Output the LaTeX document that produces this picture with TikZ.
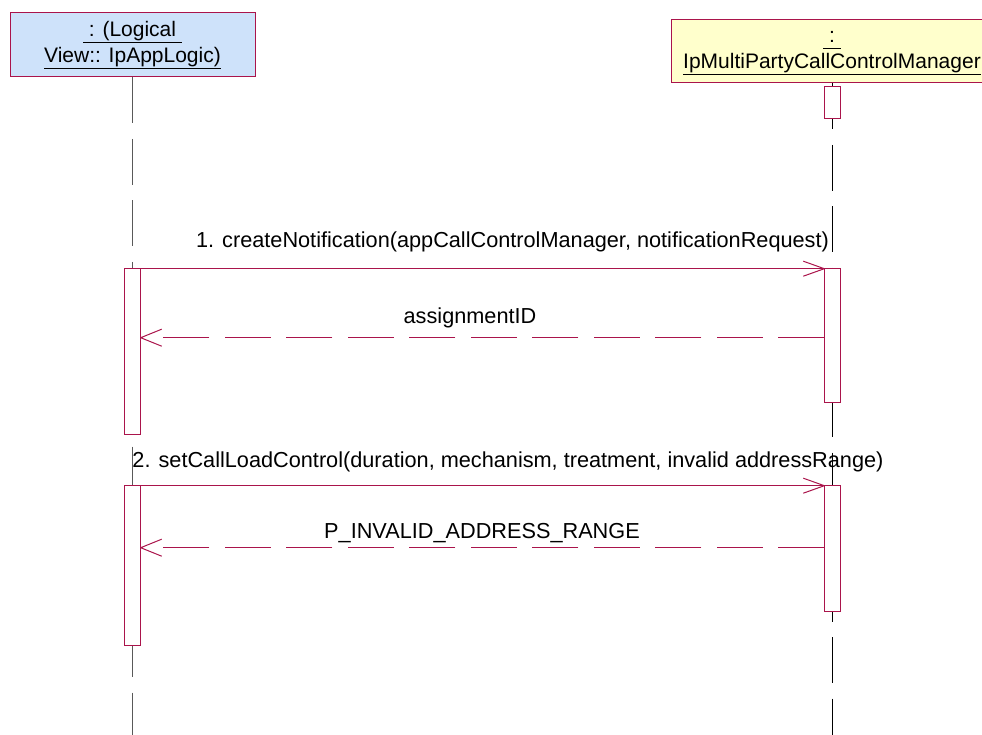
\documentclass[tikz,border=0pt]{standalone}
\usepackage{fontspec}
\setmainfont{Liberation Sans}
\usetikzlibrary{calc}
\definecolor{umlred}{RGB}{170,20,75}
\definecolor{appblue}{RGB}{206,226,250}
\definecolor{mgryellow}{RGB}{255,255,204}
\tikzset{
 objbox/.style={draw=umlred, line width=1pt, inner sep=0pt, align=center, font=\fontsize{21}{26}\selectfont},
 lifeline/.style={dash pattern=on 46pt off 15.5pt, line width=1pt},
 actbox/.style={draw=umlred, fill=white, line width=1pt},
 callmsg/.style={draw=umlred, line width=1pt},
 retmsg/.style={draw=umlred, line width=1pt, dash pattern=on 46pt off 15.5pt},
 barb/.style={draw=umlred, line width=1pt, line join=round},
 msglabel/.style={font=\fontsize{21.7}{26}\selectfont, anchor=base, inner sep=0pt, text=black},
}
\newcommand\ulbox[1]{\underline{\vphantom{(p}#1}}
\begin{document}
\begin{tikzpicture}[x=1pt,y=-1pt]
\useasboundingbox (0,0) rectangle (982,735);
\clip (0,0) rectangle (982,735);
% objects
\node[objbox, fill=appblue, minimum width=245pt, minimum height=64pt] (app) at (132.5,45) {\ulbox{~: (Logical~}\\\ulbox{View:: IpAppLogic)}};
\node[objbox, fill=mgryellow, minimum width=322pt, minimum height=63pt] (mgr) at (832,51.5) {\ulbox{~:~}\\\ulbox{IpMultiPartyCallControlManager}};
% lifelines
\coordinate (append) at (132.5,745);
\coordinate (mgrend) at (832,745);
\draw[lifeline, draw=black!65, line width=1.4pt] (app.south) -- (append);
\draw[lifeline, draw=black] (mgr.south) -- (mgrend);
% activations
\draw[actbox] (824.3,86.7) rectangle (840.3,118.3);
\draw[actbox] (124.3,268.7) rectangle (140.7,434);
\draw[actbox] (824.3,268.7) rectangle (840.3,402.7);
\draw[actbox] (124.3,485.7) rectangle (140.7,645.7);
\draw[actbox] (824.3,485.7) rectangle (840.3,611.7);
% message 1
\coordinate (m1s) at (132.5,268.7);
\coordinate (m1e) at (824.3,268.7);
\draw[callmsg] (m1s) -- (m1e);
\draw[barb] ($(m1e)+(-21,-7.5)$) -- (m1e) -- ($(m1e)+(-21,7.5)$);
\node[msglabel] (l1) at (512.5,248) {1. createNotification(appCallControlManager, notificationRequest)};
% return 1
\coordinate (r1s) at (824.3,337.7);
\coordinate (r1e) at (140.7,337.7);
\draw[retmsg] (r1s) -- ($(r1e)+(22,0)$);
\draw[barb] ($(r1e)+(21,-8.5)$) -- (r1e) -- ($(r1e)+(21,8.5)$);
\node[msglabel] (l2) at (470,323) {assignmentID};
% message 2
\coordinate (m2s) at (132.5,485.7);
\coordinate (m2e) at (824.3,485.7);
\draw[callmsg] (m2s) -- (m2e);
\draw[barb] ($(m2e)+(-21,-7.5)$) -- (m2e) -- ($(m2e)+(-21,7.5)$);
\node[msglabel] (l3) at (508,467) {2. setCallLoadControl(duration, mechanism, treatment, invalid addressRange)};
% return 2
\coordinate (r2s) at (824.3,547.7);
\coordinate (r2e) at (140.7,547.7);
\draw[retmsg] (r2s) -- ($(r2e)+(22,0)$);
\draw[barb] ($(r2e)+(21,-8.5)$) -- (r2e) -- ($(r2e)+(21,8.5)$);
\node[msglabel] (l4) at (482,538) {P\_INVALID\_ADDRESS\_RANGE};
\end{tikzpicture}
\end{document}
